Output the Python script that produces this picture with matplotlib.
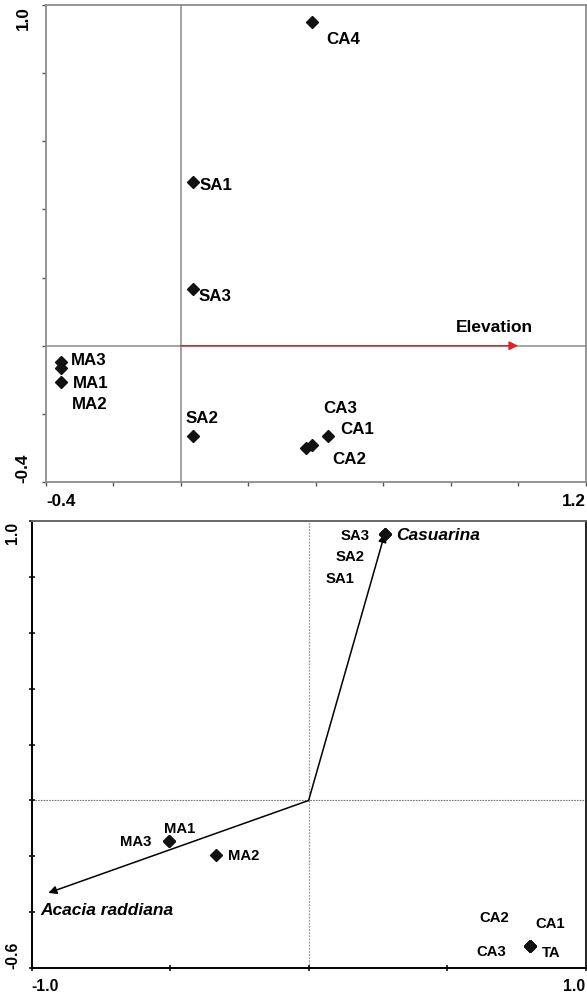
import matplotlib
matplotlib.use("Agg")
import matplotlib.pyplot as plt

plt.rcParams['font.family'] = ['Liberation Sans', 'DejaVu Sans']
plt.rcParams['font.weight'] = 'bold'

# ---------------- data: top panel (sites vs Elevation) ----------------
top_sites = ['CA4', 'SA1', 'SA3', 'MA3', 'MA2', 'MA1', 'SA2', 'CA3', 'CA2', 'CA1']
top_x = [0.389, 0.035, 0.035, -0.356, -0.356, -0.356, 0.035, 0.370, 0.388, 0.436]
top_y = [0.950, 0.480, 0.167, -0.048, -0.065, -0.107, -0.265, -0.299, -0.291, -0.265]
# label offsets in pixels (dx right, dy up)
top_lab_dx = [14.4, 7.3, 6.0, 10.0, 10.7, 12.3, -6.7, 18.0, 20.7, 12.7]
top_lab_dy = [-16.7, -2.7, -7.0, 2.6, -35.7, 0.0, 18.3, 40.0, -14.0, 7.3]
env_name = 'Elevation'
env_x, env_y = 1.0, 0.0
top_xlim = (-0.4, 1.2)
top_ylim = (-0.4, 1.0)
top_xticks = [-0.4, -0.2, 0.0, 0.2, 0.4, 0.6, 0.8, 1.0, 1.2]
top_yticks = [-0.4, -0.2, 0.0, 0.2, 0.4, 0.6, 0.8, 1.0]
top_xticklabels = ['-0.4', '', '', '', '', '', '', '', '1.2']
top_yticklabels = ['-0.4', '', '', '', '', '', '', '1.0']

# ---------------- data: bottom panel (sites vs species) ----------------
species = ['Casuarina', 'Acacia raddiana']
species_x = [0.275, -0.940]
species_y = [0.955, -0.331]
sp_lab_dx = [11.7, -8.3]
sp_lab_dy = [-1.0, -17.0]
sp_ha = ['left', 'left']

bot_sites = ['SA3', 'SA2', 'SA1', 'MA3', 'MA1', 'MA2', 'CA2', 'CA1', 'CA3', 'TA']
bot_x = [0.275, 0.275, 0.275, -0.504, -0.504, -0.335, 0.798, 0.798, 0.798, 0.798]
bot_y = [0.955, 0.955, 0.955, -0.145, -0.145, -0.195, -0.520, -0.520, -0.520, -0.520]
bot_lab_dx = [-15.0, -20.0, -30.0, -17.6, 10.7, 11.7, -35.0, 20.7, -38.3, 21.7]
bot_lab_dy = [-1.0, -21.7, -44.0, 0.0, 13.0, 0.0, 29.0, 22.7, -5.0, -6.7]
bot_lab_ha = ['right', 'right', 'right', 'right', 'center', 'left',
              'center', 'center', 'center', 'center']
bot_xlim = (-1.0, 1.0)
bot_ylim = (-0.6, 1.0)
bot_xticks = [-1.0, -0.5, 0.0, 0.5, 1.0]
bot_yticks = [-0.6, -0.4, -0.2, 0.0, 0.2, 0.4, 0.6, 0.8, 1.0]
bot_xticklabels = ['-1.0', '', '', '', '1.0']
bot_yticklabels = ['-0.6', '', '', '', '', '', '', '', '1.0']

W, H = 587, 995
fig = plt.figure(figsize=(W / 100, H / 100), dpi=100)

def px2pt(v):
    return v * 0.72

# ================= top panel =================
ax1 = fig.add_axes([46 / W, 1 - 483 / H, (585.5 - 46) / W, (483 - 6) / H])
ax1.set_xlim(*top_xlim)
ax1.set_ylim(*top_ylim)
for s in ax1.spines.values():
    s.set_color('#8c8c8c')
    s.set_linewidth(1.3)
ax1.axhline(0, color='#8c8c8c', lw=1.1, zorder=1)
ax1.axvline(0, color='#8c8c8c', lw=1.1, zorder=1)
ax1.annotate('', xy=(env_x, env_y), xytext=(0, 0),
             arrowprops=dict(arrowstyle='-|>', color='#e0202a', lw=1.1,
                             mutation_scale=13, shrinkA=0, shrinkB=0), zorder=3)
ax1.annotate(env_name, xy=(env_x, env_y), xytext=(px2pt(-24), px2pt(19)),
             textcoords='offset points', ha='center', va='center',
             fontsize=12.5, fontweight='bold')
ax1.plot(top_x, top_y, linestyle='none', marker='D', ms=6.3,
         color='#111111', zorder=4)
for name, x, y, dx, dy in zip(top_sites, top_x, top_y, top_lab_dx, top_lab_dy):
    ax1.annotate(name, xy=(x, y), xytext=(px2pt(dx), px2pt(dy)),
                 textcoords='offset points', ha='left', va='center',
                 fontsize=12.2, fontweight='bold')
ax1.set_xticks(top_xticks)
ax1.set_xticklabels(top_xticklabels, fontsize=12.3, fontweight='bold')
ax1.set_yticks(top_yticks)
ax1.set_yticklabels(top_yticklabels, fontsize=12.3, fontweight='bold',
                    rotation=90)
ax1.tick_params(axis='both', direction='out', length=3, width=1,
                color='#555555')
ax1.tick_params(axis='x', pad=5)
ax1.tick_params(axis='y', pad=8)
xl = ax1.get_xticklabels()
xl[0].set_ha('left')
xl[-1].set_ha('right')
yl = ax1.get_yticklabels()
yl[0].set_va('bottom')
yl[-1].set_va('top')

# ================= bottom panel =================
ax2 = fig.add_axes([31.7 / W, 1 - 969 / H, (585.5 - 31.7) / W, (969 - 522.3) / H])
ax2.set_xlim(*bot_xlim)
ax2.set_ylim(*bot_ylim)
ax2.spines['left'].set_color('black')
ax2.spines['bottom'].set_color('black')
ax2.spines['right'].set_color('#222222')
ax2.spines['top'].set_color('#666666')
for s in ax2.spines.values():
    s.set_linewidth(1.4)
ax2.axhline(0, color='#777777', lw=0.8, ls=(0, (1.5, 1)), zorder=1)
ax2.axvline(0, color='#999999', lw=0.9, ls=(0, (1.5, 1)), zorder=1)
for name, x, y, dx, dy, ha in zip(species, species_x, species_y,
                                   sp_lab_dx, sp_lab_dy, sp_ha):
    ax2.annotate('', xy=(x, y), xytext=(0, 0),
                 arrowprops=dict(arrowstyle='-|>', color='black', lw=1.1,
                                 mutation_scale=12, shrinkA=0, shrinkB=0),
                 zorder=3)
    ax2.annotate(name, xy=(x, y), xytext=(px2pt(dx), px2pt(dy)),
                 textcoords='offset points', ha=ha, va='center',
                 fontsize=12.5, fontweight='bold', fontstyle='italic')
ax2.plot(bot_x, bot_y, linestyle='none', marker='D', ms=6.3,
         color='#111111', zorder=4)
for name, x, y, dx, dy, ha in zip(bot_sites, bot_x, bot_y, bot_lab_dx,
                                   bot_lab_dy, bot_lab_ha):
    ax2.annotate(name, xy=(x, y), xytext=(px2pt(dx), px2pt(dy)),
                 textcoords='offset points', ha=ha, va='center',
                 fontsize=10.7, fontweight='bold')
ax2.set_xticks(bot_xticks)
ax2.set_xticklabels(bot_xticklabels, fontsize=11.3, fontweight='bold')
ax2.set_yticks(bot_yticks)
ax2.set_yticklabels(bot_yticklabels, fontsize=11.3, fontweight='bold',
                    rotation=90)
ax2.tick_params(axis='both', direction='inout', length=5, width=1.1,
                color='black')
ax2.tick_params(axis='x', pad=5)
ax2.tick_params(axis='y', pad=6)
xl = ax2.get_xticklabels()
xl[0].set_ha('left')
xl[-1].set_ha('right')
yl = ax2.get_yticklabels()
yl[0].set_va('bottom')
yl[-1].set_va('top')

fig.savefig('out.png', dpi=100)
